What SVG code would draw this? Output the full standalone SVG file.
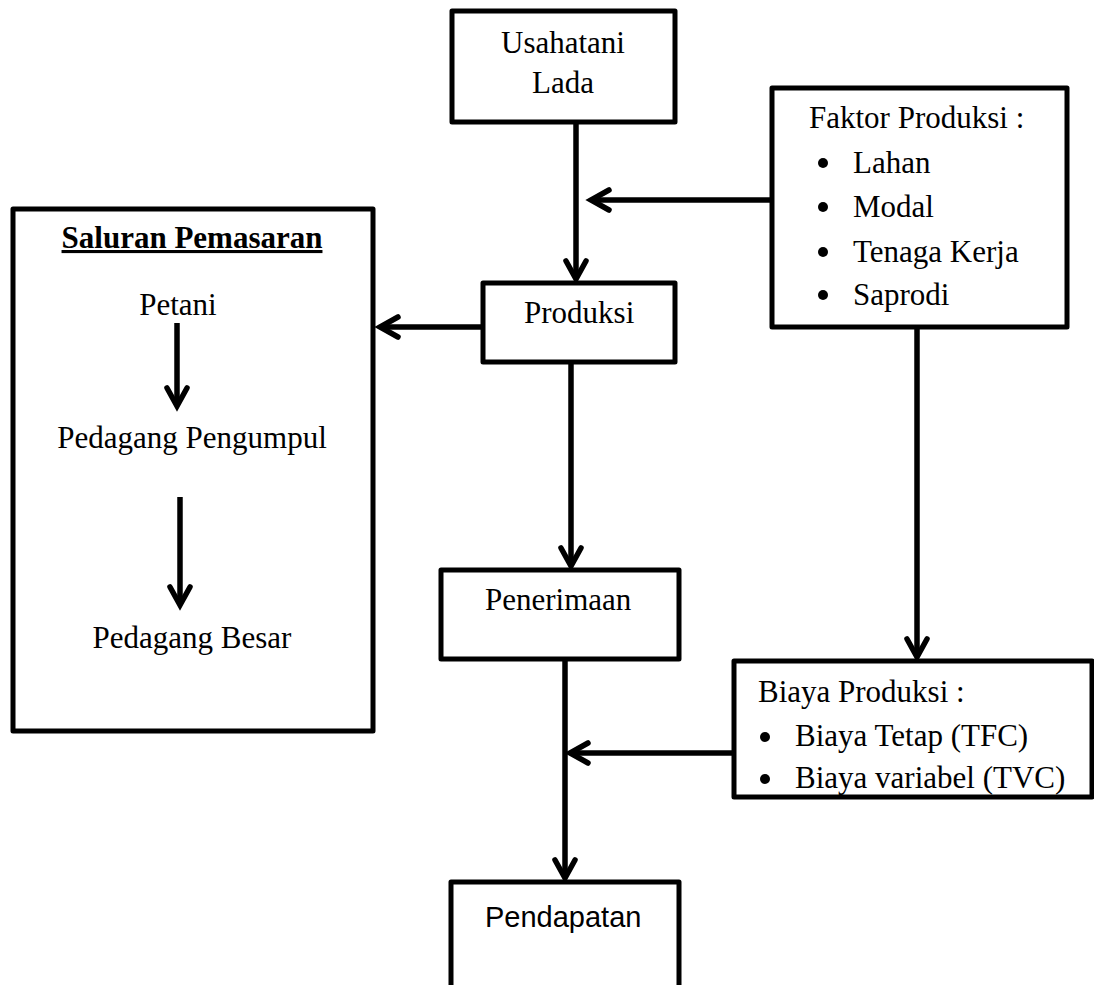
<svg xmlns="http://www.w3.org/2000/svg" width="1094" height="985" viewBox="0 0 1094 985">
  <style>
    .box { fill: #fff; stroke: #000; stroke-width: 5; stroke-linejoin: round; }
    .t { font-family: "Liberation Serif", "Times New Roman", serif; font-size: 31px; fill: #000; }
    .s { font-family: "Liberation Sans", Arial, sans-serif; font-size: 29px; fill: #000; }
    .c { text-anchor: middle; }
    .ln { fill: none; stroke: #000; stroke-width: 5.5; marker-end: url(#ah); }
    .bl { fill: #000; }
  </style>
  <defs>
    <marker id="ah" markerUnits="userSpaceOnUse" markerWidth="50" markerHeight="50" viewBox="-25 -25 50 50" refX="0" refY="0" orient="auto" overflow="visible">
      <path d="M -18 -10 L 0 0 L -18 10" fill="none" stroke="#000" stroke-width="5.5" stroke-linecap="round" stroke-linejoin="miter"/>
    </marker>
  </defs>
  <rect width="1094" height="985" fill="#fff"/>

  <g id="usahatani">
    <rect class="box" x="452" y="11" width="223" height="111"/>
    <text class="t c" x="563" y="53">Usahatani</text>
    <text class="t c" x="563" y="93">Lada</text>
  </g>

  <g id="faktor">
    <rect class="box" x="772" y="88" width="295" height="239"/>
    <text class="t" x="809" y="128">Faktor Produksi :</text>
    <circle class="bl" cx="823" cy="163" r="5"/>
    <text class="t" x="853" y="173">Lahan</text>
    <circle class="bl" cx="823" cy="207" r="5"/>
    <text class="t" x="853" y="217">Modal</text>
    <circle class="bl" cx="823" cy="252" r="5"/>
    <text class="t" x="853" y="262">Tenaga Kerja</text>
    <circle class="bl" cx="823" cy="295" r="5"/>
    <text class="t" x="853" y="305">Saprodi</text>
  </g>

  <g id="saluran">
    <rect class="box" x="13" y="209" width="360" height="522"/>
    <text class="t c" x="192" y="248" font-weight="bold" text-decoration="underline">Saluran Pemasaran</text>
    <text class="t c" x="178" y="315">Petani</text>
    <text class="t c" x="192" y="448">Pedagang Pengumpul</text>
    <text class="t c" x="192" y="648">Pedagang Besar</text>
  </g>

  <g id="produksi">
    <rect class="box" x="483" y="283" width="192" height="79"/>
    <text class="t" x="524" y="323">Produksi</text>
  </g>

  <g id="penerimaan">
    <rect class="box" x="441" y="570" width="238" height="89"/>
    <text class="t" x="485" y="610">Penerimaan</text>
  </g>

  <g id="biaya">
    <rect class="box" x="734" y="661" width="358" height="136"/>
    <text class="t" x="758" y="702">Biaya Produksi :</text>
    <circle class="bl" cx="765" cy="737" r="5"/>
    <text class="t" x="795" y="746">Biaya Tetap (TFC)</text>
    <circle class="bl" cx="765" cy="779" r="5"/>
    <text class="t" x="795" y="788">Biaya variabel (TVC)</text>
  </g>

  <g id="pendapatan">
    <rect class="box" x="451" y="882" width="228" height="120"/>
    <text class="s" x="485" y="927">Pendapatan</text>
  </g>

  <g id="connectors">
    <path class="ln" d="M 576 124 L 576 279"/>
    <path class="ln" d="M 770 200 L 591 200"/>
    <path class="ln" d="M 481 327 L 380 327"/>
    <path class="ln" d="M 571 364 L 571 566"/>
    <path class="ln" d="M 917 329 L 917 657"/>
    <path class="ln" d="M 565 661 L 565 878"/>
    <path class="ln" d="M 732 753 L 570 753"/>
    <path class="ln" d="M 177 323 L 177 406"/>
    <path class="ln" d="M 180 497 L 180 605"/>
  </g>
</svg>
